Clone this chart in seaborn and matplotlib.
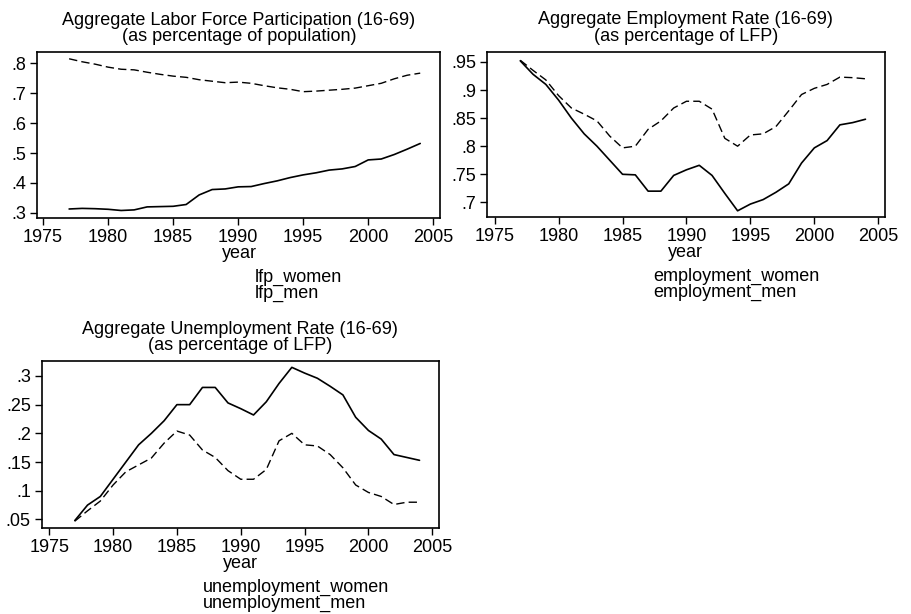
import matplotlib
matplotlib.use("Agg")
import matplotlib.pyplot as plt
import seaborn as sns

years = list(range(1977, 2005))

lfp_women = [.313, .315, .314, .312, .308, .310, .320, .321, .322, .328, .360, .378, .380, .387,
             .388, .398, .407, .418, .427, .434, .443, .447, .455, .477, .480, .495, .513, .532]
lfp_men = [.815, .805, .797, .787, .780, .778, .770, .763, .757, .753, .745, .740, .735, .737,
           .733, .725, .718, .713, .705, .707, .710, .713, .717, .725, .733, .748, .760, .767]

employment_women = [.952, .928, .910, .882, .850, .822, .800, .775, .750, .749, .720, .720, .748, .758,
                    .766, .748, .716, .685, .697, .705, .718, .733, .770, .797, .810, .838, .842, .848]
employment_men = [.953, .935, .918, .890, .868, .857, .845, .818, .797, .800, .830, .845, .868, .880,
                  .880, .866, .814, .800, .820, .822, .835, .863, .892, .903, .910, .923, .922, .920]

unemployment_women = [.048, .075, .090, .120, .150, .180, .200, .222, .250, .250, .280, .280, .253, .243,
                      .232, .255, .287, .315, .305, .296, .282, .267, .228, .205, .190, .163, .158, .153]
unemployment_men = [.047, .065, .082, .110, .133, .145, .157, .183, .204, .197, .171, .158, .135, .120,
                    .120, .137, .187, .200, .180, .178, .163, .140, .110, .097, .090, .076, .080, .080]

xticks = [1975, 1980, 1985, 1990, 1995, 2000, 2005]

sns.set_style("white")
plt.rcParams["font.family"] = ["Liberation Sans", "DejaVu Sans"]
plt.rcParams["font.size"] = 13
plt.rcParams["text.color"] = "black"
plt.rcParams["axes.labelcolor"] = "black"
plt.rcParams["xtick.color"] = "black"
plt.rcParams["ytick.color"] = "black"

fig = plt.figure(figsize=(9.12, 6.14), dpi=100)

panels = [
    dict(rect=[0.041, 0.645, 0.442, 0.270], w=lfp_women, m=lfp_men,
         title="Aggregate Labor Force Participation (16-69)\n(as percentage of population)",
         yticks=[.3, .4, .5, .6, .7, .8], ylabels=[".3", ".4", ".5", ".6", ".7", ".8"],
         ylim=(.283, .837), xlim=(1974.56, 2005.56),
         legend_text="lfp_women\nlfp_men", legend_x=255 / 912),
    dict(rect=[0.534, 0.6466, 0.436, 0.269], w=employment_women, m=employment_men,
         title="Aggregate Employment Rate (16-69)\n(as percentage of LFP)",
         yticks=[.7, .75, .8, .85, .9, .95], ylabels=[".7", ".75", ".8", ".85", ".9", ".95"],
         ylim=(.674, .968), xlim=(1974.4, 2005.5),
         legend_text="employment_women\nemployment_men", legend_x=653 / 912),
    dict(rect=[0.046, 0.140, 0.435, 0.272], w=unemployment_women, m=unemployment_men,
         title="Aggregate Unemployment Rate (16-69)\n(as percentage of LFP)",
         yticks=[.05, .1, .15, .2, .25, .3], ylabels=[".05", ".1", ".15", ".2", ".25", ".3"],
         ylim=(.035, .326), xlim=(1974.43, 2005.5),
         legend_text="unemployment_women\nunemployment_men", legend_x=203 / 912),
]

for p in panels:
    ax = fig.add_axes(p["rect"])
    sns.lineplot(x=years, y=p["w"], ax=ax, color="black", linewidth=1.2)
    sns.lineplot(x=years, y=p["m"], ax=ax, color="black", linewidth=1.0, linestyle=(0, (6, 3)))
    ax.set_xlim(*p["xlim"])
    ax.set_ylim(*p["ylim"])
    ax.set_xticks(xticks)
    ax.set_xticklabels([str(t) for t in xticks])
    ax.set_yticks(p["yticks"])
    ax.set_yticklabels(p["ylabels"])
    ax.tick_params(bottom=True, left=True, direction="out", length=5, width=1,
                   color="black", pad=3, labelsize=13)
    for s in ax.spines.values():
        s.set_color("black")
        s.set_linewidth(1.2)
    ax.set_title(p["title"], fontsize=13, linespacing=0.95, pad=8)
    ax.set_xlabel("year", fontsize=13, labelpad=-1)
    ax.set_ylabel("")
    # legend as plain text lines, no keys
    bottom_px = (1 - p["rect"][1]) * 614
    fig.text(p["legend_x"], 1 - (bottom_px + 51) / 614, p["legend_text"],
             fontsize=13, ha="left", va="top", linespacing=0.9)

fig.savefig("out.png", dpi=100)
